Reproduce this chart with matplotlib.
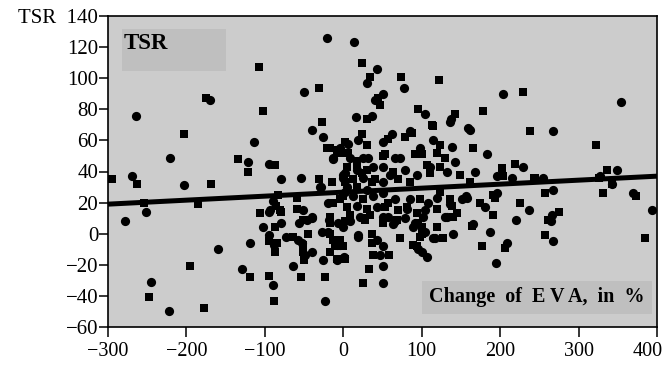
import matplotlib
matplotlib.use("Agg")
import matplotlib.pyplot as plt
import matplotlib.transforms as mtransforms
from matplotlib.patches import Rectangle

plt.rcParams['font.family'] = ['Liberation Serif', 'DejaVu Serif']

# Change of EVA (%) and TSR values
eva = [
    -21, -107, -264, -175, -170, -203, -221, -102, -114, -134, -121, -121, -95, -87,
    -50, -31, -40, -27, -26, -21, -13, -8, -269, -295, -54, -31, -79,
    -263, -203, -169, -28, -14, -278, -254, -252, -185, -160, -195, -245, -248, -222,
    -178, -129, -119, -119, -95, -90, -88, -64, -54, -23, -23, -26, -106, -95, -79,
    -102, -86, -79, -87, -95, -95, -88, -87, -73, -64, -58, -51, -49, -50, -40, -45,
    -56, -51, -40, -59, -51, -59, -27, -17, -19, -13, -18, -13, -8, -17, -8, -83, -90,
    25, 50, 33, 50, 38, 47, 58, 1, -8, 107, 94, 100, 177, 195, 206, 209, 164, 187,
    191, 220, 225, 237, 257, 267, 261, 266, 275, 265, 257, 268, 331, 370, 373, 393,
    385, 342, 326, 157, 174, 181, 191, 196, 139, 130, 140, 140, 127, 117, 120, 102,
    95, 104, 98, 89, 72, 63, 68, 51, 53, 50, 37, 19, 28, 0, -4, 85, 81, 120, 123,
    14, 24, 43, 34, 30, 74, 77, 122, 50, 44, 40, 47, 204, 229, 354, 95, 104, 143,
    137, 178, 37, 30, 16, 115, 162, 238, 268, 322, 85, 79, 62, 57, 51, 24, 19, 30,
    6, -17, 115, 123, 139, 166, 183, 120, 98, 100, 72, 53, 32, 0, -8, 130, 143, 219,
    229, 203, 168, 336, 349, 107, 79, 63, 50, 18, 2, 24, 94, 111, 196, 243, 255,
    113, 136, 88, 159, 2, -4, 92, 66, 51, 111, 123, 132, 149, 60, 70, 38, 41, 51, 85,
    9, 18, 25, 5, 18, 30, 0, 12, 25, 37, 5, 18, 30, 0, 12, 25, 38, 5, 18, 30, 43, 9,
    21, 34, 51, 57, 66, 70, 81, 98, 108, 136, 151, 94, 104, 120, 136, 145, 79,
    -7, -13, 6, 0, 2, -93, -81, -40, -4, 2, -17, -30,
    -84, -53, -51, -46, -17, -7, 2, -19, -10, -4, 2,
    9, 25, 19, 37, 43, 51, 66, 72, 57, 0, 92, 89, 95, 101, 115, 101, 132,
    204, 215, 245, 327, 343, 158, 194, 166, 162,
]
tsr = [
    126, 107, 76, 87, 86, 64, 49, 79, 59, 48, 46, 40, 45, 44,
    91, 94, 67, 72, 62, 55, 48, 54, 37, 35, 36, 35, 35,
    32, 31, 32, 30, 33, 8, 20, 14, 19, -10, -21, -31, -41, -50,
    -48, -23, -28, -6, -27, -33, -43, -21, -28, -43, -28, -17, 13, 14, 14,
    4, 18, 7, 4, -1, -5, -7, -12, -2, -2, -4, -7, -14, -17, -12, 0,
    7, 9, 10, 16, 15, 23, 1, 0, 20, 20, 9, -4, -7, -12, -17, 25, 21,
    -32, -32, -23, -21, -14, -14, -14, -15, -16, -15, -8, -12, -8, -19, -9, -6, 5, 1,
    12, 9, 20, 15, -1, -5, 9, 12, 14, 8, 26, 28, 26, 26, 24, 15,
    -3, 32, 36, 24, 20, 17, 25, 26, 18, 11, 11, 0, -3, -3, 4, 11,
    7, 1, -2, 4, -3, 6, 9, 11, 17, -8, -6, -2, 9, 4, -4, 22, 17, 23, 27,
    123, 110, 106, 101, 97, 101, 94, 99, 90, 87, 86, 83, 90, 91, 85, 80, 77, 77,
    74, 79, 76, 74, 75, 69, 67, 66, 66, 57, 66, 62, 64, 61, 59, 64, 60, 57,
    58, 55, 60, 57, 56, 55, 51, 52, 55, 51, 49, 51, 49, 52, 53, 49, 46, 45,
    43, 42, 40, 41, 41, 44, 41, 40, 43, 44, 39, 39, 38, 39, 37, 36, 36,
    70, 72, 65, 68, 59, 55, 51, 49, 50, 43, 43, 40, 38, 38, 35, 43, 35, 33, 33,
    49, 47, 49, 43, 41, 41, 36, 35, 36, 33, 30, 30, 28, 24, 24, 22, 24, 17, 18, 16, 17, 12,
    11, 12, 26, 20, 22, 15, 16, 22, 20, 22, 22, 13, 15, 16, 19, 13, 10,
    52, 49, 52, 38, 33, 15, 15, 11, 22, 27, 11, 30,
    -6, -6, -12, 9, 7, 7, 8, 1, -8, -7, -16,
    8, 10, -1, 0, -4, 7, 8, -3, 11, -8, 7, -7, -10, 0, -3, 4, 11,
    37, 36, 36, 37, 32, 23, 23, 6, 33,
]

# Regression line end points
line_x = [-300, 400]
line_y = [19, 37]

xticks = [-300, -200, -100, 0, 100, 200, 300, 400]
yticks = [-60, -40, -20, 0, 20, 40, 60, 80, 100, 120, 140]
xtick_labels = ['\u2212300', '\u2212200', '\u2212100', '0', '100', '200', '300', '400']
ytick_labels = ['\u221260', '\u221240', '\u221220', '0', '20', '40', '60', '80', '100', '120', 'TSR  140']

fig = plt.figure(figsize=(6.69, 3.65), dpi=100)
ax = fig.add_axes([108 / 669, 38 / 365, 549 / 669, 311 / 365])
ax.set_facecolor('#cccccc')

n = min(len(eva), len(tsr))
xs = eva[:n]
ys = tsr[:n]
ax.scatter(xs[0::2], ys[0::2], s=44, marker='o', color='black', linewidths=0, zorder=3)
ax.scatter(xs[1::2], ys[1::2], s=38, marker='s', color='black', linewidths=0, zorder=3)
ax.plot(line_x, line_y, color='black', lw=3.6, zorder=4, solid_capstyle='butt')

ax.set_xlim(-300, 400)
ax.set_ylim(-60, 140)
ax.set_xticks(xticks)
ax.set_xticklabels(xtick_labels, fontsize=14.5)
ax.set_yticks(yticks)
ax.set_yticklabels(ytick_labels, fontsize=15)
ax.tick_params(axis='y', direction='out', length=6.5, width=1.1, pad=0.5)
ax.tick_params(axis='x', direction='out', length=7, width=1.1, pad=4)
for sp in ax.spines.values():
    sp.set_linewidth(1.2)
    sp.set_color('black')

# shift the last x tick label left so it stays inside the figure, as in the reference
last = ax.get_xticklabels()[-1]
last.set_transform(last.get_transform() + mtransforms.ScaledTranslation(-9 / 100, 0, fig.dpi_scale_trans))

ax.add_patch(Rectangle((-282, 104.6), 132.5, 27, facecolor='#bfbfbf', edgecolor='none', zorder=1))
ax.text(-280, 122.5, 'TSR', fontsize=16.5, fontweight='bold', ha='left', va='center', zorder=2)

ax.add_patch(Rectangle((100.5, -51.6), 293.5, 21.2, facecolor='#bfbfbf', edgecolor='none', zorder=1))
ax.text(247, -41, 'Change  of  E V A,  in  %', fontsize=14.5, fontweight='bold',
        ha='center', va='center', zorder=2)

fig.savefig('out.png', dpi=100)
